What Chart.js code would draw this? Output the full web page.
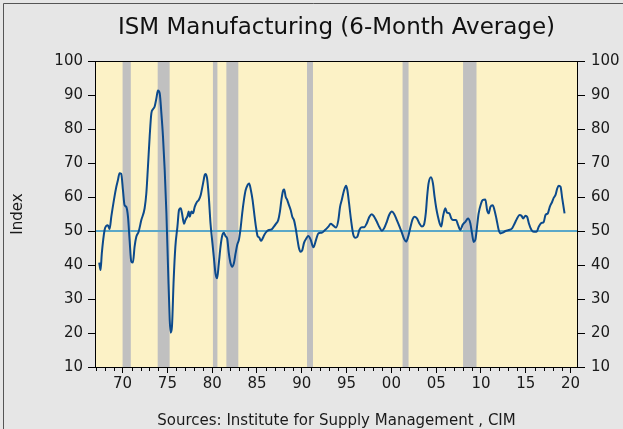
<!DOCTYPE html>
<html>
<head>
<meta charset="utf-8">
<script src="https://cdn.jsdelivr.net/npm/chart.js@4/dist/chart.umd.min.js"></script>
<style>
  html, body { margin: 0; padding: 0; background: #e6e6e6; }
  canvas { display: block; }
</style>
</head>
<body>
<canvas id="c" width="623" height="429"></canvas>
<script>
// ---------- texts ----------
const titleText = 'ISM Manufacturing (6-Month Average)';
const sourceText = 'Sources: Institute for Supply Management , CIM';
const yAxisTitle = 'Index';

// ---------- data ----------
const years = [
  1967.39, 1967.54, 1967.68, 1967.99, 1968.18, 1968.36, 1968.55, 1968.74, 1969.03, 1969.30,
  1969.48, 1969.66, 1969.85, 1970.04, 1970.22, 1970.41, 1970.60, 1970.78, 1970.97, 1971.15,
  1971.34, 1971.53, 1971.79, 1972.09, 1972.46, 1972.65, 1972.83, 1973.02, 1973.21, 1973.39,
  1973.58, 1973.77, 1973.95, 1974.14, 1974.33, 1974.51, 1974.70, 1974.89, 1975.07, 1975.26,
  1975.37, 1975.51, 1975.70, 1975.89, 1976.12, 1976.30, 1976.49, 1976.63, 1976.86, 1977.01,
  1977.24, 1977.38, 1977.49, 1977.68, 1977.86, 1978.05, 1978.31, 1978.50, 1978.72, 1978.98,
  1979.17, 1979.25, 1979.43, 1979.62, 1979.81, 1979.99, 1980.18, 1980.37, 1980.55, 1980.74,
  1980.93, 1981.11, 1981.30, 1981.49, 1981.67, 1981.86, 1982.05, 1982.23, 1982.42, 1982.61,
  1982.79, 1982.98, 1983.17, 1983.35, 1983.54, 1983.73, 1983.95, 1984.13, 1984.32, 1984.51,
  1984.69, 1984.88, 1985.07, 1985.25, 1985.44, 1985.63, 1985.81, 1986.07, 1986.33, 1986.63,
  1986.89, 1987.11, 1987.37, 1987.56, 1987.75, 1987.93, 1988.04, 1988.20, 1988.38, 1988.57,
  1988.76, 1988.94, 1989.13, 1989.32, 1989.50, 1989.69, 1989.85, 1990.06, 1990.25, 1990.50,
  1990.73, 1991.00, 1991.29, 1991.59, 1991.85, 1992.22, 1992.60, 1992.97, 1993.23, 1993.53,
  1993.83, 1994.08, 1994.27, 1994.46, 1994.72, 1994.94, 1995.09, 1995.28, 1995.50, 1995.76,
  1995.98, 1996.20, 1996.43, 1996.70, 1996.96, 1997.26, 1997.55, 1997.82, 1998.08, 1998.38,
  1998.67, 1998.94, 1999.19, 1999.49, 1999.75, 2000.06, 2000.31, 2000.61, 2000.91, 2001.17,
  2001.43, 2001.65, 2001.85, 2002.10, 2002.36, 2002.58, 2002.85, 2003.11, 2003.41, 2003.63,
  2003.85, 2003.99, 2004.15, 2004.42, 2004.64, 2004.82, 2005.01, 2005.20, 2005.38, 2005.57,
  2005.76, 2006.02, 2006.21, 2006.47, 2006.69, 2006.95, 2007.22, 2007.44, 2007.70, 2007.95,
  2008.25, 2008.56, 2008.81, 2009.00, 2009.18, 2009.37, 2009.56, 2009.74, 2010.01, 2010.19,
  2010.49, 2010.68, 2010.86, 2011.05, 2011.31, 2011.50, 2011.72, 2011.98, 2012.17, 2012.43,
  2012.75, 2013.10, 2013.47, 2013.77, 2014.03, 2014.30, 2014.52, 2014.71, 2014.97, 2015.15,
  2015.34, 2015.64, 2015.90, 2016.20, 2016.46, 2016.72, 2017.01, 2017.20, 2017.46, 2017.68,
  2017.95, 2018.13, 2018.32, 2018.51, 2018.69, 2018.88, 2019.07, 2019.33
];
const ismValues = [
  40.7, 38.5, 43.4, 50.3, 51.5, 51.7, 50.6, 54.2, 59.1, 63.0,
  65.0, 67.0, 66.8, 62.0, 57.6, 57.1, 54.2, 47.4, 41.0, 40.7,
  45.4, 48.3, 49.8, 53.2, 56.7, 61.1, 68.9, 77.7, 84.6, 85.8,
  86.6, 89.0, 91.3, 90.5, 84.6, 77.7, 67.9, 55.2, 39.5, 23.8,
  20.1, 21.9, 35.6, 45.4, 51.3, 56.2, 56.7, 55.2, 52.1, 53.2,
  54.4, 55.7, 54.2, 55.7, 55.2, 57.1, 58.6, 59.1, 60.6, 64.0,
  66.5, 66.8, 65.5, 60.1, 52.3, 47.4, 42.4, 37.5, 36.1, 40.5,
  45.4, 48.5, 49.5, 48.5, 47.8, 43.4, 40.5, 39.5, 40.5, 43.4,
  45.9, 47.4, 50.8, 55.2, 59.1, 62.0, 63.5, 64.0, 62.0, 59.1,
  55.2, 51.3, 48.5, 48.1, 47.1, 47.8, 48.8, 49.8, 50.3, 50.5,
  51.3, 52.1, 53.2, 55.7, 59.6, 62.0, 62.2, 60.1, 59.1, 57.6,
  56.2, 54.2, 53.2, 50.8, 47.8, 44.9, 43.9, 44.4, 46.5, 47.8,
  48.5, 47.4, 45.2, 47.4, 49.3, 49.5, 50.3, 51.3, 52.1, 51.6,
  51.0, 53.2, 57.1, 59.1, 62.0, 63.3, 62.0, 58.1, 53.2, 48.8,
  48.0, 48.3, 50.3, 51.1, 51.1, 52.3, 54.2, 54.9, 54.2, 52.7,
  51.1, 50.1, 50.8, 52.7, 54.7, 55.7, 55.0, 53.2, 51.3, 49.5,
  47.6, 46.9, 48.1, 50.8, 53.4, 54.2, 53.7, 52.3, 51.3, 51.8,
  55.5, 60.1, 64.0, 65.8, 64.0, 60.1, 56.7, 54.2, 52.3, 51.3,
  54.2, 56.7, 55.4, 55.2, 53.7, 53.2, 53.2, 51.8, 50.3, 51.8,
  52.7, 53.7, 52.3, 49.3, 46.8, 47.4, 51.3, 55.2, 58.1, 59.1,
  59.3, 56.2, 55.2, 57.1, 57.6, 56.2, 53.7, 50.3, 49.3, 49.5,
  50.0, 50.3, 50.8, 52.3, 53.7, 54.7, 54.5, 53.7, 54.5, 54.2,
  52.3, 50.3, 49.8, 49.8, 51.3, 52.3, 52.7, 54.7, 55.2, 57.1,
  58.6, 59.8, 60.6, 62.5, 63.3, 63.0, 59.6, 55.2
];

// NBER recessions as shaded (start, end in decimal years)
const recessionStart = [1970.000, 1973.917, 1980.083, 1981.583, 1990.583, 2001.250, 2008.000];
const recessionEnd   = [1970.917, 1975.250, 1980.583, 1982.917, 1991.250, 2001.917, 2009.500];

// axes
const xMin = 1966.92, xMax = 2020.83;
const xFirstTickYear = 1967, xLastTickYear = 2020;
const xLabelYears = [1970, 1975, 1980, 1985, 1990, 1995, 2000, 2005, 2010, 2015, 2020];
const yMin = 10, yMax = 100, yStep = 10;
const neutralLevel = 50;

// ---------- styling ----------
const FONT = "'DejaVu Sans', 'Liberation Sans', sans-serif";
Chart.defaults.font.family = FONT;
Chart.defaults.font.size = 15;
Chart.defaults.color = '#1a1a1a';

const tickYearList = [];
for (let yv = xFirstTickYear; yv <= xLastTickYear; yv++) tickYearList.push(yv);

const decorPlugin = {
  id: 'decor',
  beforeDraw(chart) {
    const { ctx, chartArea: a, scales: { x } } = chart;
    ctx.save();
    ctx.fillStyle = '#e6e6e6';
    ctx.fillRect(0, 0, chart.width, chart.height);
    ctx.strokeStyle = '#555555';
    ctx.lineWidth = 1;
    ctx.beginPath();
    ctx.moveTo(3.5, chart.height);
    ctx.lineTo(3.5, 3.5);
    ctx.lineTo(chart.width, 3.5);
    ctx.stroke();
    ctx.fillStyle = '#fcf2c6';
    ctx.fillRect(a.left, a.top, a.right - a.left, a.bottom - a.top);
    ctx.fillStyle = '#c0c0c0';
    for (let i = 0; i < recessionStart.length; i++) {
      const x0 = x.getPixelForValue(recessionStart[i]);
      const x1 = x.getPixelForValue(recessionEnd[i]);
      ctx.fillRect(x0, a.top, x1 - x0, a.bottom - a.top);
    }
    ctx.restore();
  },
  afterDraw(chart) {
    const { ctx, chartArea: a, scales: { x } } = chart;
    ctx.save();
    // frame
    ctx.strokeStyle = '#000';
    ctx.lineWidth = 1;
    ctx.strokeRect(a.left + 0.5, a.top + 0.5, a.right - a.left - 1, a.bottom - a.top);
    // minor yearly ticks
    ctx.beginPath();
    x.ticks.forEach(t => {
      if (xLabelYears.includes(t.value)) return;
      const px = Math.round(x.getPixelForValue(t.value)) + 0.5;
      ctx.moveTo(px, a.bottom + 0.5);
      ctx.lineTo(px, a.bottom + 4);
    });
    ctx.stroke();
    // title and source
    const cx = (a.left + a.right) / 2;
    ctx.fillStyle = '#111';
    ctx.textAlign = 'center';
    ctx.textBaseline = 'alphabetic';
    ctx.font = "23px " + FONT;
    ctx.fillText(titleText, cx, 34);
    ctx.font = "15px " + FONT;
    ctx.fillStyle = '#1a1a1a';
    ctx.fillText(sourceText, cx, 425);
    ctx.restore();
  }
};

const yAxisCommon = {
  type: 'linear',
  min: yMin, max: yMax,
  border: { display: false },
  grid: { display: true, drawOnChartArea: false, drawTicks: true, tickLength: 7, color: '#000', tickColor: '#000' },
  ticks: { stepSize: yStep, font: { size: 15 }, color: '#1a1a1a' }
};

new Chart(document.getElementById('c'), {
  type: 'line',
  data: {
    datasets: [
      {
        label: 'ISM',
        data: years.map((yr, i) => ({ x: yr, y: ismValues[i] })),
        borderColor: '#0c4a8c',
        borderWidth: 2,
        pointRadius: 0,
        cubicInterpolationMode: 'monotone',
        fill: false,
        order: 1,
        yAxisID: 'y'
      },
      {
        label: '50',
        data: [{ x: xMin, y: neutralLevel }, { x: xMax, y: neutralLevel }],
        borderColor: '#5ba8c8',
        borderWidth: 2,
        pointRadius: 0,
        fill: false,
        order: 2,
        yAxisID: 'y'
      }
    ]
  },
  options: {
    responsive: false,
    animation: false,
    devicePixelRatio: 1,
    events: [],
    layout: { padding: { top: 61, left: 0, right: 0, bottom: 0 } },
    plugins: { legend: { display: false }, title: { display: false }, tooltip: { enabled: false } },
    scales: {
      x: {
        type: 'linear',
        position: 'bottom',
        min: xMin, max: xMax,
        bounds: 'data',
        border: { display: false },
        grid: {
          display: true, drawOnChartArea: false, drawTicks: true, tickLength: 6,
          tickColor: (c) => (c.tick && xLabelYears.includes(c.tick.value)) ? '#000' : 'rgba(0,0,0,0)'
        },
        afterBuildTicks: (scale) => { scale.ticks = tickYearList.map(v => ({ value: v })); },
        afterFit: (scale) => { scale.height = 62; },
        ticks: {
          autoSkip: false, maxRotation: 0, minRotation: 0, padding: 2,
          font: { size: 15 }, color: '#1a1a1a',
          callback: (v) => xLabelYears.includes(v) ? String(v).slice(2) : ''
        }
      },
      y: Object.assign({}, yAxisCommon, {
        position: 'left',
        title: { display: true, text: yAxisTitle, font: { size: 15 }, color: '#1a1a1a', padding: { top: 9, bottom: 0 } },
        afterFit: (scale) => { scale.width = 95; },
        ticks: Object.assign({}, yAxisCommon.ticks, { padding: 5 })
      }),
      y2: Object.assign({}, yAxisCommon, {
        position: 'right',
        afterFit: (scale) => { scale.width = 45; },
        ticks: Object.assign({}, yAxisCommon.ticks, { padding: 6 })
      })
    }
  },
  plugins: [decorPlugin]
});
</script>
</body>
</html>
